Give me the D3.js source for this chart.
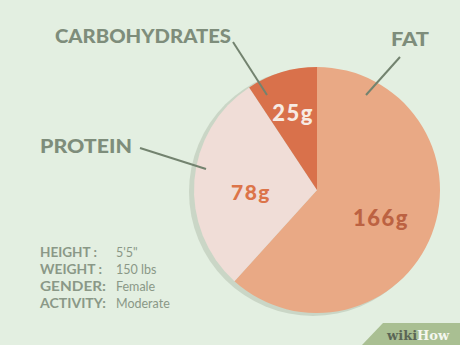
<!DOCTYPE html>
<html>
<head>
<meta charset="utf-8">
<script src="https://cdn.jsdelivr.net/npm/d3@7"></script>
<style>
  html, body { margin: 0; padding: 0; background: #e3efe1; }
  svg { display: block; }
</style>
</head>
<body>
<svg id="chart" width="460" height="345"></svg>
<script>
// DATA
var categories = ["FAT", "PROTEIN", "CARBOHYDRATES"];
var grams = [166, 78, 25];
var valueLabels = ["166g", "78g", "25g"];
var infoKeys = ["HEIGHT :", "WEIGHT :", "GENDER:", "ACTIVITY:"];
var infoValues = ["5'5\"", "150 lbs", "Female", "Moderate"];

// SVG + constants
var svg = d3.select("#chart");
var cx = 317, cy = 190, r = 123;
var sliceColor = d3.scaleOrdinal().domain(categories).range(["#e9a985", "#f0ddd7", "#d9714b"]);
var valueColor = d3.scaleOrdinal().domain(categories).range(["#bc6242", "#dc7449", "#f7ebe3"]);
var textGrey = "#7e8d7b";

svg.append("rect").attr("width", 460).attr("height", 345).attr("fill", "#e3efe1");

var pie = d3.pie().sort(null).value(function (d) { return d.v; });
var arcs = pie(categories.map(function (c, i) { return { name: c, v: grams[i], label: valueLabels[i] }; }));
var arc = d3.arc().innerRadius(0).outerRadius(r);

// shadow disc behind the pie
svg.append("circle")
    .attr("cx", cx - 4).attr("cy", cy + 2).attr("r", r + 1)
    .attr("fill", "#cad6c6");

var g = svg.append("g").attr("transform", "translate(" + cx + "," + cy + ")");
g.selectAll("path.slice")
    .data(arcs)
    .enter().append("path")
    .attr("class", "slice")
    .attr("d", arc)
    .attr("fill", function (d) { return sliceColor(d.data.name); });

// value labels inside slices
var valuePos = { "FAT": [64, 27], "PROTEIN": [-66, 1], "CARBOHYDRATES": [-24, -78] };
var valueSize = { "FAT": 22, "PROTEIN": 21, "CARBOHYDRATES": 22 };
g.selectAll("text.val")
    .data(arcs)
    .enter().append("text")
    .attr("class", "val")
    .attr("x", function (d) { return valuePos[d.data.name][0]; })
    .attr("y", function (d) { return valuePos[d.data.name][1]; })
    .attr("text-anchor", "middle")
    .attr("dominant-baseline", "central")
    .attr("font-family", "Lato, 'DejaVu Sans', sans-serif")
    .attr("font-weight", 900)
    .attr("font-size", function (d) { return valueSize[d.data.name]; })
    .attr("letter-spacing", 1.5)
    .attr("fill", function (d) { return valueColor(d.data.name); })
    .text(function (d) { return d.data.label; });

// category labels + leader lines
var labelInfo = {
    "FAT": { x: 391, y: 46, len: 38, line: [400, 57, 366, 95] },
    "PROTEIN": { x: 40, y: 153, len: 92, line: [140, 148, 206, 169] },
    "CARBOHYDRATES": { x: 55, y: 43, len: 176, line: [233, 42, 267, 95] }
};
categories.forEach(function (c) {
    var L = labelInfo[c];
    svg.append("line")
        .attr("x1", L.line[0]).attr("y1", L.line[1])
        .attr("x2", L.line[2]).attr("y2", L.line[3])
        .attr("stroke", "#73836f").attr("stroke-width", 2);
    svg.append("text")
        .attr("x", L.x).attr("y", L.y)
        .attr("font-family", "Lato, 'DejaVu Sans', sans-serif")
        .attr("font-weight", 900)
        .attr("font-size", 19)
        .attr("textLength", L.len)
        .attr("lengthAdjust", "spacingAndGlyphs")
        .attr("fill", textGrey)
        .text(c);
});

// info block
var infoY = d3.scaleBand().domain(infoKeys).range([242, 310]);
var info = svg.append("g");
info.selectAll("text.key")
    .data(infoKeys)
    .enter().append("text")
    .attr("class", "key")
    .attr("x", 40)
    .attr("y", function (d) { return infoY(d) + infoY.bandwidth() - 2; })
    .attr("font-family", "Lato, 'DejaVu Sans', sans-serif")
    .attr("font-weight", 700)
    .attr("font-size", 13.5)
    .attr("textLength", function (d, i) { return [57, 62, 66, 66][i]; })
    .attr("lengthAdjust", "spacingAndGlyphs")
    .attr("fill", "#8a9887")
    .text(function (d) { return d; });
info.selectAll("text.v")
    .data(infoValues)
    .enter().append("text")
    .attr("class", "v")
    .attr("x", 116)
    .attr("y", function (d, i) { return infoY(infoKeys[i]) + infoY.bandwidth() - 2; })
    .attr("font-family", "Lato, 'DejaVu Sans', sans-serif")
    .attr("font-size", 12.5)
    .attr("fill", "#8a9887")
    .text(function (d) { return d; });

// wikiHow badge
svg.append("path")
    .attr("d", "M 383 323 L 460 323 L 460 345 L 362 345 Z")
    .attr("fill", "#a9bf92");
var wm = svg.append("text")
    .attr("x", 387).attr("y", 340)
    .attr("font-family", "'DejaVu Serif', 'Liberation Serif', serif")
    .attr("font-weight", 700)
    .attr("font-size", 13);
wm.append("tspan").attr("fill", "#5b6656").text("wiki");
wm.append("tspan").attr("fill", "#f4f7ef").text("How");
</script>
</body>
</html>
